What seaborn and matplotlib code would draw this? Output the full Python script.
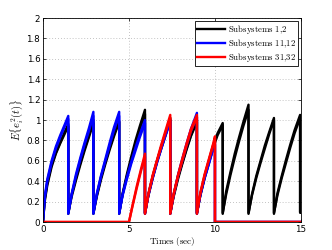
import pandas as pd
import matplotlib
matplotlib.use("Agg")
import matplotlib.pyplot as plt
import seaborn as sns

## Datos (t en seg, E{e_i^2(t)})
t_black = [0, 0.1, 0.25, 0.5, 0.75, 1.0, 1.25, 1.47,
           1.47, 1.67, 1.92, 2.17, 2.42, 2.67, 2.93,
           2.93, 3.13, 3.38, 3.63, 3.88, 4.13, 4.43,
           4.43, 4.63, 4.88, 5.13, 5.38, 5.63, 5.93,
           5.93, 6.13, 6.38, 6.63, 6.88, 7.13, 7.40,
           7.40, 7.60, 7.85, 8.10, 8.35, 8.60, 8.95,
           8.95, 9.15, 9.40, 9.65, 9.90, 10.15, 10.45,
           10.45, 10.65, 10.90, 11.15, 11.40, 11.65, 11.95,
           11.95, 12.15, 12.40, 12.65, 12.90, 13.15, 13.43,
           13.43, 13.63, 13.88, 14.13, 14.38, 14.63, 14.95,
           14.95, 15.0]

sub1 = [0, 0.22, 0.38, 0.56, 0.68, 0.78, 0.88, 0.96,
        0.08, 0.27, 0.43, 0.58, 0.72, 0.85, 1.00,
        0.08, 0.26, 0.44, 0.59, 0.73, 0.86, 0.99,
        0.08, 0.28, 0.47, 0.64, 0.80, 0.94, 1.10,
        0.08, 0.27, 0.45, 0.60, 0.74, 0.87, 1.02,
        0.08, 0.26, 0.44, 0.58, 0.72, 0.85, 1.00,
        0.08, 0.27, 0.45, 0.60, 0.75, 0.87, 0.97,
        0.08, 0.30, 0.49, 0.67, 0.83, 0.98, 1.15,
        0.08, 0.27, 0.45, 0.60, 0.75, 0.88, 1.02,
        0.08, 0.28, 0.45, 0.61, 0.76, 0.90, 1.05,
        0.09, 0.09]

sub2 = [0, 0.20, 0.36, 0.54, 0.67, 0.77, 0.86, 0.94,
        0.09, 0.25, 0.41, 0.56, 0.70, 0.83, 0.97,
        0.09, 0.25, 0.42, 0.57, 0.71, 0.84, 0.98,
        0.09, 0.27, 0.45, 0.61, 0.77, 0.91, 1.06,
        0.09, 0.26, 0.43, 0.59, 0.72, 0.85, 1.00,
        0.09, 0.25, 0.42, 0.57, 0.71, 0.84, 0.98,
        0.09, 0.26, 0.43, 0.58, 0.73, 0.85, 0.95,
        0.09, 0.27, 0.46, 0.63, 0.79, 0.94, 1.10,
        0.09, 0.26, 0.43, 0.58, 0.72, 0.86, 1.00,
        0.09, 0.26, 0.43, 0.58, 0.73, 0.87, 1.02,
        0.10, 0.10]

t_blue = [0, 0.1, 0.25, 0.5, 0.75, 1.0, 1.25, 1.47,
          1.47, 1.67, 1.92, 2.17, 2.42, 2.67, 2.93,
          2.93, 3.13, 3.38, 3.63, 3.88, 4.13, 4.43,
          4.43, 4.63, 4.88, 5.13, 5.38, 5.63, 5.93,
          5.93, 6.13, 6.38, 6.63, 6.88, 7.13, 7.40,
          7.40, 7.60, 7.85, 8.10, 8.35, 8.60, 8.95,
          8.95, 9.15, 9.40, 9.65, 9.90, 10.0,
          10.0, 15.0]

sub11 = [0, 0.25, 0.42, 0.60, 0.74, 0.85, 0.95, 1.04,
         0.08, 0.28, 0.47, 0.63, 0.78, 0.92, 1.08,
         0.08, 0.28, 0.46, 0.62, 0.78, 0.93, 1.08,
         0.08, 0.27, 0.44, 0.59, 0.73, 0.86, 1.00,
         0.08, 0.27, 0.44, 0.59, 0.73, 0.86, 1.00,
         0.08, 0.27, 0.46, 0.62, 0.77, 0.91, 1.07,
         0.08, 0.27, 0.44, 0.58, 0.73, 0.78,
         0, 0]

sub12 = [0, 0.23, 0.40, 0.58, 0.72, 0.83, 0.93, 1.01,
         0.09, 0.27, 0.45, 0.61, 0.76, 0.89, 1.04,
         0.09, 0.27, 0.45, 0.60, 0.75, 0.90, 1.04,
         0.09, 0.26, 0.42, 0.57, 0.70, 0.83, 0.97,
         0.09, 0.26, 0.43, 0.58, 0.72, 0.85, 0.98,
         0.09, 0.27, 0.45, 0.60, 0.75, 0.89, 1.03,
         0.09, 0.26, 0.43, 0.57, 0.72, 0.76,
         0, 0]

t_red = [0, 5.0, 5.2, 5.45, 5.7, 5.93,
         5.93, 6.13, 6.38, 6.63, 6.88, 7.13, 7.40,
         7.40, 7.60, 7.85, 8.10, 8.35, 8.60, 8.95,
         8.95, 9.15, 9.40, 9.65, 9.90, 10.0,
         10.0, 15.0]

sub31 = [0, 0, 0.16, 0.35, 0.52, 0.67,
         0.08, 0.28, 0.46, 0.61, 0.76, 0.90, 1.05,
         0.08, 0.28, 0.46, 0.62, 0.77, 0.91, 1.05,
         0.08, 0.29, 0.47, 0.62, 0.77, 0.84,
         0, 0]

sub32 = [0, 0, 0.15, 0.33, 0.50, 0.64,
         0.09, 0.27, 0.45, 0.60, 0.74, 0.88, 1.02,
         0.09, 0.27, 0.45, 0.60, 0.75, 0.89, 1.03,
         0.09, 0.28, 0.46, 0.61, 0.76, 0.82,
         0, 0]

groups = ["Subsystems 1,2", "Subsystems 11,12", "Subsystems 31,32"]
colores = ["black", "blue", "red"]

#%%
## Tabla larga para seaborn
partes = []
for t, e, g, u in [(t_black, sub1, groups[0], 1), (t_black, sub2, groups[0], 2),
                   (t_blue, sub11, groups[1], 11), (t_blue, sub12, groups[1], 12),
                   (t_red, sub31, groups[2], 31), (t_red, sub32, groups[2], 32)]:
    partes.append(pd.DataFrame({"t": t, "e": e, "grupo": g, "sub": u}))
datos = pd.concat(partes, ignore_index=True)

#%%
plt.rcParams["mathtext.fontset"] = "cm"
fig = plt.figure(figsize=(3.32, 2.5), dpi=100)
ax = fig.add_axes([0.1295, 0.112, 0.777, 0.816])

sns.lineplot(data=datos, x="t", y="e", hue="grupo", units="sub",
             estimator=None, sort=False, hue_order=groups,
             palette=colores, linewidth=1.7, ax=ax)

ax.set_xlim(0, 15)
ax.set_ylim(0, 2)
ax.set_xticks([0, 5, 10, 15])
ax.set_yticks([0, 0.2, 0.4, 0.6, 0.8, 1, 1.2, 1.4, 1.6, 1.8, 2])
ax.set_yticklabels(["0", "0.2", "0.4", "0.6", "0.8", "1", "1.2", "1.4", "1.6", "1.8", "2"])
ax.grid(True, linestyle=(0, (1, 2.5)), color="#b0b0b0", linewidth=0.6)
ax.tick_params(direction="in", top=True, right=True, length=2.5, width=0.5,
               labelsize=6.3, pad=2)
for s in ax.spines.values():
    s.set_linewidth(0.6)

ax.set_xlabel(r"$\mathrm{Times\ (sec)}$", fontsize=6.5, labelpad=1)
ax.set_ylabel(r"$E\{e_i^2(t)\}$", fontsize=7.5, labelpad=1)

h, l = ax.get_legend_handles_labels()
etiquetas = [r"$\mathrm{" + s.replace(" ", r"\ ").replace(",", "{,}") + "}$" for s in l]
leg = ax.legend(h, etiquetas, loc="upper right", fontsize=6.3,
                frameon=True, fancybox=False, edgecolor="black", framealpha=1,
                handlelength=3.2, handletextpad=0.3, borderpad=0.25,
                labelspacing=0.1, borderaxespad=0.3)
leg.get_frame().set_linewidth(0.6)

plt.savefig("out.png", dpi=100)
